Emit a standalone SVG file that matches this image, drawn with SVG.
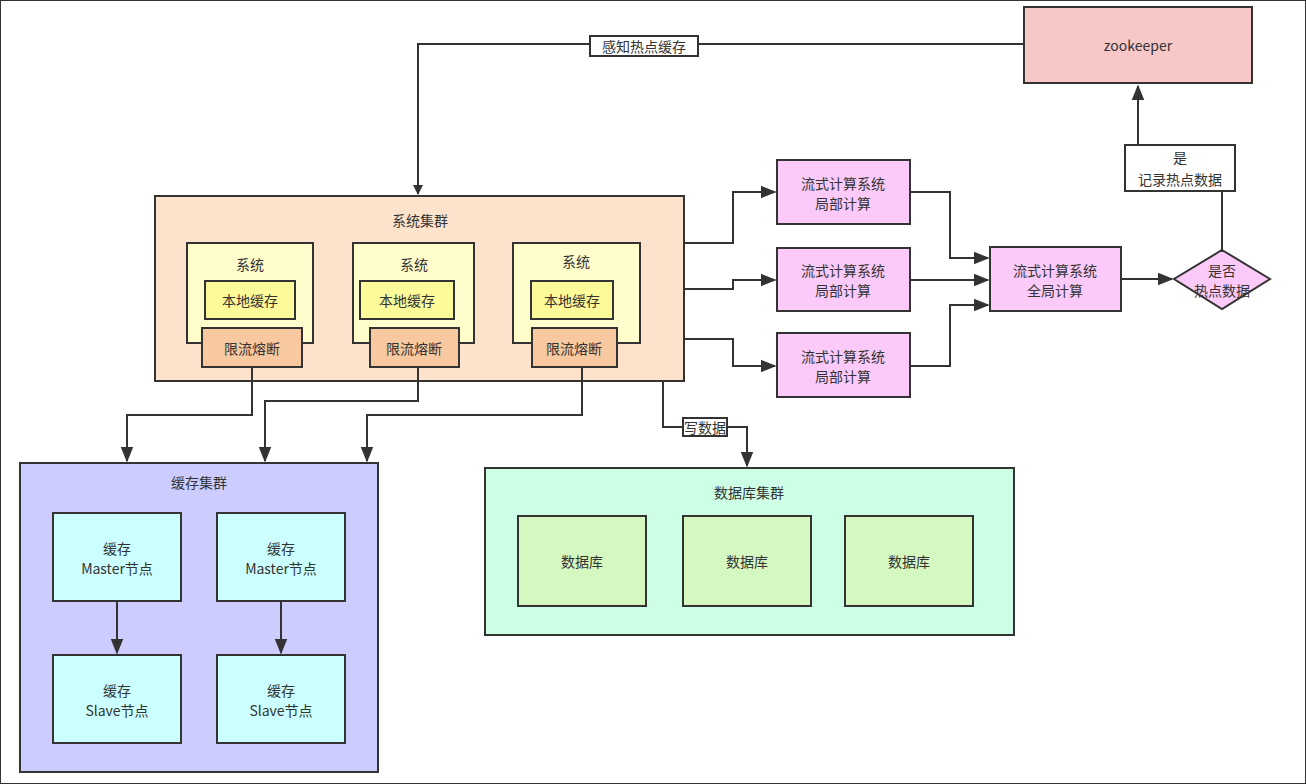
<svg xmlns="http://www.w3.org/2000/svg" width="1306" height="784" viewBox="0 0 1306 784">
<style>
text{font-family:"Noto Sans CJK SC","Liberation Sans",sans-serif;font-size:14px;fill:#333;text-anchor:middle;dominant-baseline:central}
rect,polygon{stroke:#333;stroke-width:2}
.c{fill:none;stroke:#333;stroke-width:2}
</style>
<defs><marker id="a" viewBox="0 0 10 10" refX="9" refY="5" markerWidth="10" markerHeight="10" markerUnits="userSpaceOnUse" orient="auto"><path d="M0,0L10,5L0,10z" fill="#333"/></marker>
<marker id="b" viewBox="0 0 10 10" refX="9" refY="5" markerWidth="16" markerHeight="16" markerUnits="userSpaceOnUse" orient="auto"><path d="M0,1L10,5L0,9z" fill="#333"/></marker></defs>
<rect width="1306" height="784" fill="#fff" stroke="none"/>
<g id="sys-cluster"><rect x="155" y="196" width="529" height="185" fill="#fde3cc"/><text x="420" y="220">系统集群</text></g>
<g id="sys1"><rect x="187" y="243" width="126" height="100" fill="#fffdcc"/><text x="250" y="264">系统</text><rect x="205" y="281" width="90" height="38" fill="#fdfa9a"/><text x="250" y="300">本地缓存</text><rect x="202" y="328" width="100" height="39" fill="#f8c9a0"/><text x="252" y="348">限流熔断</text></g>
<g id="sys2"><rect x="353" y="243" width="121" height="100" fill="#fffdcc"/><text x="414" y="264">系统</text><rect x="360" y="281" width="94" height="38" fill="#fdfa9a"/><text x="407" y="300">本地缓存</text><rect x="370" y="328" width="89" height="39" fill="#f8c9a0"/><text x="414" y="348">限流熔断</text></g>
<g id="sys3"><rect x="513" y="243" width="127" height="100" fill="#fffdcc"/><text x="576" y="261">系统</text><rect x="531" y="281" width="82" height="38" fill="#fdfa9a"/><text x="572" y="300">本地缓存</text><rect x="532" y="328" width="85" height="39" fill="#f8c9a0"/><text x="574" y="348">限流熔断</text></g>
<g id="s1"><rect x="777" y="160" width="133" height="64" fill="#fccaf8"/><text x="843" y="183">流式计算系统</text><text x="843" y="203">局部计算</text></g>
<g id="s2"><rect x="777" y="248" width="133" height="63" fill="#fccaf8"/><text x="843" y="270">流式计算系统</text><text x="843" y="290">局部计算</text></g>
<g id="s3"><rect x="777" y="333" width="133" height="64" fill="#fccaf8"/><text x="843" y="356">流式计算系统</text><text x="843" y="376">局部计算</text></g>
<g id="global"><rect x="990" y="247" width="131" height="64" fill="#fccaf8"/><text x="1055" y="270">流式计算系统</text><text x="1055" y="290">全局计算</text></g>
<g id="hot"><polygon points="1222,250 1270,279 1222,309 1174,279" fill="#fccaf8"/><text x="1222" y="270">是否</text><text x="1222" y="290">热点数据</text></g>
<g id="zk"><rect x="1024" y="7" width="228" height="76" fill="#f8c8c8"/><text x="1138" y="45">zookeeper</text></g>
<g id="cache-cluster"><rect x="20" y="463" width="358" height="309" fill="#ccccff"/><text x="199" y="482">缓存集群</text></g>
<g id="m1"><rect x="53" y="513" width="128" height="88" fill="#ccffff"/><text x="117" y="548">缓存</text><text x="117" y="568">Master节点</text></g>
<g id="m2"><rect x="217" y="513" width="128" height="88" fill="#ccffff"/><text x="281" y="548">缓存</text><text x="281" y="568">Master节点</text></g>
<g id="sl1"><rect x="53" y="655" width="128" height="88" fill="#ccffff"/><text x="117" y="690">缓存</text><text x="117" y="710">Slave节点</text></g>
<g id="sl2"><rect x="217" y="655" width="128" height="88" fill="#ccffff"/><text x="281" y="690">缓存</text><text x="281" y="710">Slave节点</text></g>
<g id="db-cluster"><rect x="485" y="468" width="529" height="167" fill="#ccffe6"/><text x="749" y="492">数据库集群</text></g>
<g id="db1"><rect x="518" y="516" width="128" height="90" fill="#d5f8c0"/><text x="582" y="561">数据库</text></g>
<g id="db2"><rect x="683" y="516" width="128" height="90" fill="#d5f8c0"/><text x="747" y="561">数据库</text></g>
<g id="db3"><rect x="845" y="516" width="128" height="90" fill="#d5f8c0"/><text x="909" y="561">数据库</text></g>
<g id="connectors">
<path class="c" d="M1024,44H418V194" marker-end="url(#a)"/>
<rect x="590" y="36" width="108" height="20" fill="#fff" stroke="none"/><text x="644" y="46">感知热点缓存</text>
<path class="c" d="M1222,250V165H1138V86" marker-end="url(#b)"/>
<rect x="1125" y="145" width="110" height="46" fill="#fff" stroke="none"/><text x="1180" y="157">是</text><text x="1180" y="179">记录热点数据</text>
<path class="c" d="M684,243H733V192H775" marker-end="url(#b)"/>
<path class="c" d="M684,289H733V280H775" marker-end="url(#b)"/>
<path class="c" d="M684,339H733V366H775" marker-end="url(#b)"/>
<path class="c" d="M910,192H950V258H988" marker-end="url(#b)"/>
<path class="c" d="M910,280H988" marker-end="url(#b)"/>
<path class="c" d="M910,366H950V305H988" marker-end="url(#b)"/>
<path class="c" d="M1121,279H1172" marker-end="url(#b)"/>
<path class="c" d="M252,367V415H127V461" marker-end="url(#b)"/>
<path class="c" d="M418,367V401H265V461" marker-end="url(#b)"/>
<path class="c" d="M582,367V415H367V461" marker-end="url(#b)"/>
<path class="c" d="M663,381V427H747V466" marker-end="url(#b)"/>
<rect x="683" y="418" width="44" height="18" fill="#fff" stroke="none"/><text x="705" y="427">写数据</text>
<path class="c" d="M117,601V653" marker-end="url(#b)"/>
<path class="c" d="M281,601V653" marker-end="url(#b)"/>
</g>
</svg>
